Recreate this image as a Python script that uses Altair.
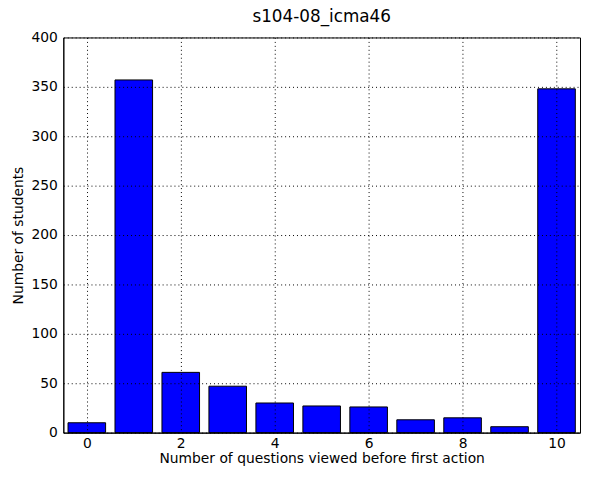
import altair as alt
import pandas as pd

questions = [0, 1, 2, 3, 4, 5, 6, 7, 8, 9, 10]
students = [10, 357, 61, 47, 30, 27, 26, 13, 15, 6, 348]
x_ticks = [0, 2, 4, 6, 8, 10]
y_ticks = [0, 50, 100, 150, 200, 250, 300, 350, 400]

df = pd.DataFrame({"q": questions, "n": students})
df["x0"] = df["q"] - 0.4
df["x1"] = df["q"] + 0.4

font = "DejaVu Sans"

chart = alt.Chart(df).mark_bar(
    color="#0000ff", stroke="#000000", strokeWidth=1
).encode(
    x=alt.X("x0:Q", scale=alt.Scale(domain=[-0.5, 10.5], nice=False, zero=False),
            axis=alt.Axis(values=x_ticks, title="Number of questions viewed before first action",
                          grid=True, gridColor="#000000", gridDash=[1, 3], gridOpacity=1,
                          ticks=False, labelPadding=4, domain=True, domainColor="#000000",
                          labelFontSize=14, titleFontSize=14, labelFont=font, titleFont=font,
                          titleFontWeight="normal", titlePadding=1, labelColor="#000000",
                          titleColor="#000000", zindex=1, format="d")),
    x2="x1:Q",
    y=alt.Y("n:Q", scale=alt.Scale(domain=[0, 400], nice=False),
            axis=alt.Axis(values=y_ticks, title="Number of students",
                          grid=True, gridColor="#000000", gridDash=[1, 3], gridOpacity=1,
                          ticks=False, labelPadding=6, domain=True, domainColor="#000000",
                          labelFontSize=14, titleFontSize=14, labelFont=font, titleFont=font,
                          titleFontWeight="normal", titlePadding=6, labelColor="#000000",
                          titleColor="#000000", zindex=1)),
    y2=alt.Y2(datum=0),
).properties(
    width=523, height=400,
    title=alt.TitleParams("s104-08_icma46", font=font, fontSize=17, fontWeight="normal",
                          color="#000000", offset=5),
    autosize=alt.AutoSizeParams(type="none"),
    padding={"left": 56, "top": 27, "right": 1, "bottom": 35},
).configure_view(stroke="#000000", strokeWidth=1)

chart.save("out.html", embed_options={"renderer": "svg", "actions": False})
